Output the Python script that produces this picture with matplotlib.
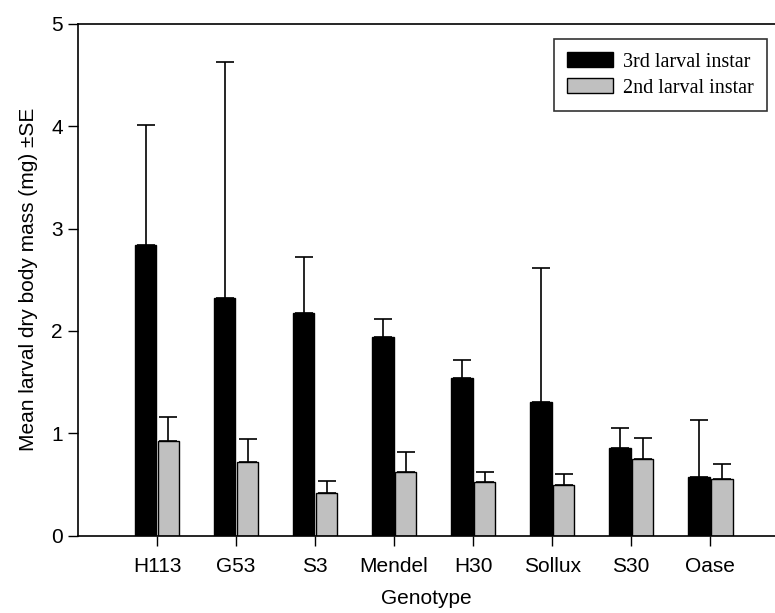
import numpy as np
import matplotlib
matplotlib.use("Agg")
import matplotlib.pyplot as plt

# ── data ──────────────────────────────────────────────
genotypes = ["H113", "G53", "S3", "Mendel", "H30", "Sollux", "S30", "Oase"]
third_mean = [2.84, 2.32, 2.17, 1.94, 1.54, 1.31, 0.86, 0.57]
third_se   = [1.17, 2.31, 0.55, 0.18, 0.18, 1.30, 0.19, 0.56]
second_mean = [0.92, 0.72, 0.42, 0.625, 0.52, 0.50, 0.75, 0.55]
second_se   = [0.24, 0.22, 0.115, 0.195, 0.105, 0.105, 0.20, 0.15]

plt.rcParams["font.family"] = ["Liberation Sans", "DejaVu Sans"]
FS = 15

fig = plt.figure(figsize=(7.75, 6.13), dpi=100)
ax = fig.add_axes([78 / 775, 1 - 535.7 / 613, (775 - 78) / 775, (535.7 - 23.7) / 613])

x = np.arange(len(genotypes))
w = 0.275
off = 0.145
err_kw = dict(ecolor="black", elinewidth=1.2, capsize=6.5, capthick=1.2)

# upper half error bars only
ax.bar(x - off, third_mean, w, color="black", edgecolor="black", linewidth=1,
       yerr=[np.zeros(len(x)), third_se], error_kw=err_kw, label="3rd larval instar", zorder=2)
ax.bar(x + off, second_mean, w, color="#c0c0c0", edgecolor="black", linewidth=1,
       yerr=[np.zeros(len(x)), second_se], error_kw=err_kw, label="2nd larval instar", zorder=2)

ax.set_xlim(-1.0, 7.82)
ax.set_ylim(0, 5)
ax.set_xticks(x)
ax.set_xticklabels(genotypes, fontsize=FS)
ax.set_yticks(range(6))
ax.tick_params(axis="y", labelsize=FS, length=7, width=1, direction="out", pad=4)
ax.tick_params(axis="x", length=7, width=1, direction="out", pad=8)

ax.spines["right"].set_visible(False)
for s in ["left", "bottom", "top"]:
    ax.spines[s].set_linewidth(1.2)

ax.set_xlabel("Genotype", fontsize=FS, labelpad=10)
ax.set_ylabel("Mean larval dry body mass (mg) \u00b1SE", fontsize=FS, labelpad=9)

leg = ax.legend(loc="upper right", bbox_to_anchor=(689 / 697, 1 - 15.3 / 512),
                prop={"family": "Liberation Serif", "size": 14.5},
                frameon=True, fancybox=False, edgecolor="black",
                handlelength=2.3, handleheight=0.8, handletextpad=0.5,
                borderpad=0.65, labelspacing=0.3, borderaxespad=0)
leg.get_frame().set_linewidth(1.2)

fig.savefig("out.png", dpi=100)
